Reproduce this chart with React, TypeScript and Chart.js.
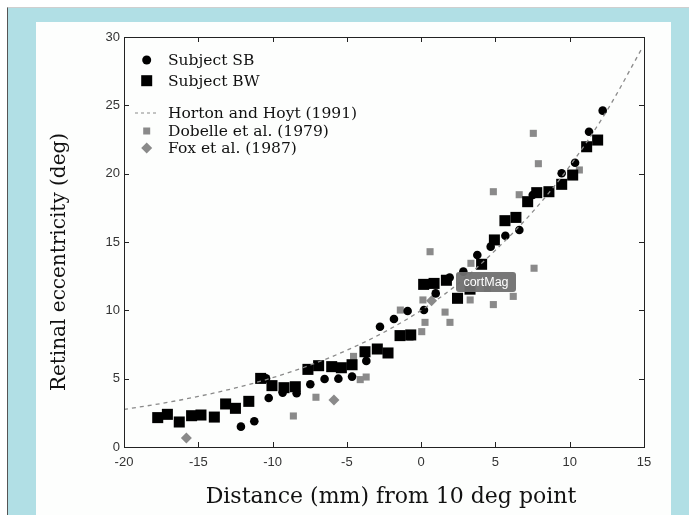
import React, { useEffect, useRef } from "react";
import { Chart, registerables } from "chart.js";
Chart.register(...registerables);

// Subject SB (circles)
const SB_X = [-12.13, -11.23, -10.44, -10.26, -9.32, -8.38, -7.46, -6.5, -5.57, -4.65, -3.69, -2.77, -1.83, -0.91, 0.19, 0.98, 1.92, 2.84, 3.78, 4.68, 5.67, 6.61, 7.51, 9.46, 10.36, 11.3, 12.22];
const SB_Y = [1.49, 1.88, 5.02, 3.58, 3.98, 3.93, 4.59, 4.98, 5.0, 5.15, 6.3, 8.8, 9.37, 9.95, 10.02, 11.24, 12.4, 12.83, 14.05, 14.66, 15.46, 15.88, 18.44, 20.03, 20.8, 23.07, 24.61];

// Subject BW (squares)
const BW_X = [-17.73, -17.08, -16.28, -15.45, -14.82, -13.92, -13.16, -12.5, -11.6, -10.8, -10.04, -9.23, -8.47, -7.62, -6.9, -6.02, -5.37, -4.65, -3.78, -2.95, -2.23, -1.42, -0.7, 0.17, 0.87, 1.7, 2.45, 3.29, 4.07, 4.93, 5.64, 6.38, 7.17, 7.78, 8.6, 9.46, 10.2, 11.14, 11.88];
const BW_Y = [2.15, 2.39, 1.83, 2.29, 2.34, 2.19, 3.15, 2.83, 3.34, 5.02, 4.49, 4.34, 4.41, 5.68, 5.95, 5.88, 5.8, 6.02, 6.97, 7.17, 6.88, 8.15, 8.2, 11.9, 11.97, 12.2, 10.88, 11.55, 13.37, 15.15, 16.56, 16.8, 17.95, 18.61, 18.68, 19.22, 19.9, 21.97, 22.46];

// Horton and Hoyt (1991) curve
const HH_X = [-20, -17.5, -15, -12.5, -10, -7.5, -5, -2.5, 0, 2.5, 5, 7.5, 10, 12.5, 14.85];
const HH_Y = [2.75, 3.18, 3.7, 4.32, 5.07, 5.98, 7.08, 8.4, 10.0, 11.95, 14.4, 17.2, 20.55, 24.6, 29.15];

// Dobelle et al. (1979)
const DOB_X = [-8.6, -7.08, -4.55, -4.1, -3.7, -1.4, -0.75, 0.04, 0.26, 0.12, 0.6, 1.61, 1.94, 3.35, 3.3, 4.45, 4.86, 4.86, 6.2, 6.6, 7.6, 7.55, 7.89, 10.65];
const DOB_Y = [2.27, 3.64, 6.63, 4.93, 5.12, 10.02, 8.02, 8.44, 9.12, 10.76, 14.29, 9.87, 9.12, 13.44, 10.76, 11.6, 10.42, 18.68, 11.02, 18.46, 13.08, 22.95, 20.73, 20.27];

// Fox et al. (1987)
const FOX_X = [-15.8, -5.87, 0.7];
const FOX_Y = [0.66, 3.44, 10.7];

const X_TICKS = ["-20", "-15", "-10", "-5", "0", "5", "10", "15"];
const Y_TICKS = ["0", "5", "10", "15", "20", "25", "30"];

const LEGEND = ["Subject SB", "Subject BW", "Horton and Hoyt (1991)", "Dobelle et al. (1979)", "Fox et al. (1987)"];
const X_TITLE = "Distance (mm) from 10 deg point";
const Y_TITLE = "Retinal eccentricity (deg)";

const pts = (xs: number[], ys: number[]) => xs.map((x, i) => ({ x, y: ys[i] }));

const GRAY = "#8a8a8a";
const SERIF = "'DejaVu Serif', serif";

const framePlugin = {
  id: "frame",
  afterDraw(chart: any) {
    const { ctx, chartArea: a, scales } = chart;
    ctx.save();
    ctx.strokeStyle = "#222";
    ctx.lineWidth = 1;
    ctx.strokeRect(Math.round(a.left) + 0.5, Math.round(a.top) + 0.5, Math.round(a.right - a.left), Math.round(a.bottom - a.top));
    const tl = 5;
    ctx.beginPath();
    scales.x.ticks.forEach((t: any) => {
      const px = Math.round(scales.x.getPixelForValue(t.value)) + 0.5;
      ctx.moveTo(px, a.bottom);
      ctx.lineTo(px, a.bottom - tl);
      ctx.moveTo(px, a.top);
      ctx.lineTo(px, a.top + tl);
    });
    scales.y.ticks.forEach((t: any) => {
      const py = Math.round(scales.y.getPixelForValue(t.value)) + 0.5;
      ctx.moveTo(a.left, py);
      ctx.lineTo(a.left + tl, py);
      ctx.moveTo(a.right, py);
      ctx.lineTo(a.right - tl, py);
    });
    ctx.stroke();

    // Legend
    const mx = 110.7;
    const rows = [38, 58.7, 91, 109, 126];
    ctx.fillStyle = "#000";
    ctx.beginPath();
    ctx.arc(mx, rows[0], 4.5, 0, Math.PI * 2);
    ctx.fill();
    ctx.fillRect(mx - 5.5, rows[1] - 5.5, 11, 11);
    ctx.strokeStyle = GRAY;
    ctx.lineWidth = 1.2;
    ctx.setLineDash([3, 3]);
    ctx.beginPath();
    ctx.moveTo(99, rows[2]);
    ctx.lineTo(121, rows[2]);
    ctx.stroke();
    ctx.setLineDash([]);
    ctx.fillStyle = GRAY;
    ctx.fillRect(mx - 3.5, rows[3] - 3.5, 7, 7);
    ctx.beginPath();
    ctx.moveTo(mx, rows[4] - 5.5);
    ctx.lineTo(mx + 5.5, rows[4]);
    ctx.lineTo(mx, rows[4] + 5.5);
    ctx.lineTo(mx - 5.5, rows[4]);
    ctx.closePath();
    ctx.fill();
    ctx.fillStyle = "#111";
    ctx.font = `15.5px ${SERIF}`;
    ctx.textBaseline = "middle";
    ctx.textAlign = "left";
    LEGEND.forEach((t, i) => ctx.fillText(t, 132, rows[i] + 1));

    // Axis titles
    ctx.font = `22px ${SERIF}`;
    ctx.textAlign = "center";
    ctx.fillText(X_TITLE, 355, 475);
    ctx.save();
    ctx.font = `20px ${SERIF}`;
    ctx.translate(24, 240);
    ctx.rotate(-Math.PI / 2);
    ctx.fillText(Y_TITLE, 0, 0);
    ctx.restore();
    ctx.restore();
  },
};

function ChartView() {
  const ref = useRef<HTMLCanvasElement | null>(null);
  useEffect(() => {
    if (!ref.current) return;
    const chart = new Chart(ref.current, {
      type: "scatter",
      data: {
        datasets: [
          {
            label: LEGEND[2],
            data: pts(HH_X, HH_Y),
            showLine: true,
            borderColor: GRAY,
            borderWidth: 1.3,
            borderDash: [4, 4],
            pointRadius: 0,
            cubicInterpolationMode: "monotone",
            fill: false,
          } as any,
          {
            label: LEGEND[1],
            data: pts(BW_X, BW_Y),
            pointStyle: "rect",
            pointRadius: 7.8,
            backgroundColor: "#000",
            borderColor: "#000",
            borderWidth: 0,
          },
          {
            label: LEGEND[0],
            data: pts(SB_X, SB_Y),
            pointStyle: "circle",
            pointRadius: 4.3,
            backgroundColor: "#000",
            borderColor: "#000",
            borderWidth: 0,
          },
          {
            label: LEGEND[4],
            data: pts(FOX_X, FOX_Y),
            pointStyle: "rectRot",
            pointRadius: 5.5,
            backgroundColor: GRAY,
            borderColor: GRAY,
            borderWidth: 0,
          },
          {
            label: LEGEND[3],
            data: pts(DOB_X, DOB_Y),
            pointStyle: "rect",
            pointRadius: 5,
            backgroundColor: GRAY,
            borderColor: GRAY,
            borderWidth: 0,
          },
        ],
      },
      options: {
        animation: false,
        responsive: true,
        maintainAspectRatio: false,
        layout: { padding: { top: 15, right: 27, left: 0, bottom: 0 } },
        plugins: { legend: { display: false }, tooltip: { enabled: false }, title: { display: false } },
        events: [],
        scales: {
          x: {
            type: "linear",
            min: -20,
            max: 15,
            grid: { display: false, drawTicks: false },
            border: { display: false },
            ticks: {
              stepSize: 5,
              padding: 8,
              color: "#333",
              font: { family: "'Liberation Sans', Arial, sans-serif", size: 13 },
              maxRotation: 0,
              callback: (v: any) => X_TICKS[Math.round((Number(v) + 20) / 5)] ?? "",
            },
            afterFit: (s: any) => {
              s.height = 68;
            },
          },
          y: {
            type: "linear",
            min: 0,
            max: 30,
            grid: { display: false, drawTicks: false },
            border: { display: false },
            ticks: {
              stepSize: 5,
              padding: 4,
              color: "#333",
              font: { family: "'Liberation Sans', Arial, sans-serif", size: 13 },
              callback: (v: any) => Y_TICKS[Math.round(Number(v) / 5)] ?? "",
            },
            afterFit: (s: any) => {
              s.width = 88;
            },
          },
        },
      },
      plugins: [framePlugin],
    });
    return () => chart.destroy();
  }, []);
  return <canvas ref={ref} />;
}

export default function App() {
  return (
    <div
      style={{
        position: "fixed",
        top: 7,
        left: 7,
        right: 0,
        bottom: 0,
        background: "#b1dfe5",
        borderTop: "1px solid #cfcfcf",
        borderLeft: "1px solid #555",
      }}
    >
      <div
        style={{
          position: "absolute",
          left: 28,
          top: 14,
          width: 635,
          height: 493,
          background: "#fdfefd",
        }}
      >
        <div style={{ position: "relative", width: 635, height: 493 }}>
          <ChartView />
        </div>
        <div
          style={{
            position: "absolute",
            left: 420,
            top: 250,
            width: 60,
            height: 20,
            background: "rgba(112,112,112,0.95)",
            color: "#fff",
            borderRadius: 3,
            font: "12.5px 'Liberation Sans', Arial, sans-serif",
            lineHeight: "20px",
            textAlign: "center",
          }}
        >
          cortMag
        </div>
      </div>
    </div>
  );
}
